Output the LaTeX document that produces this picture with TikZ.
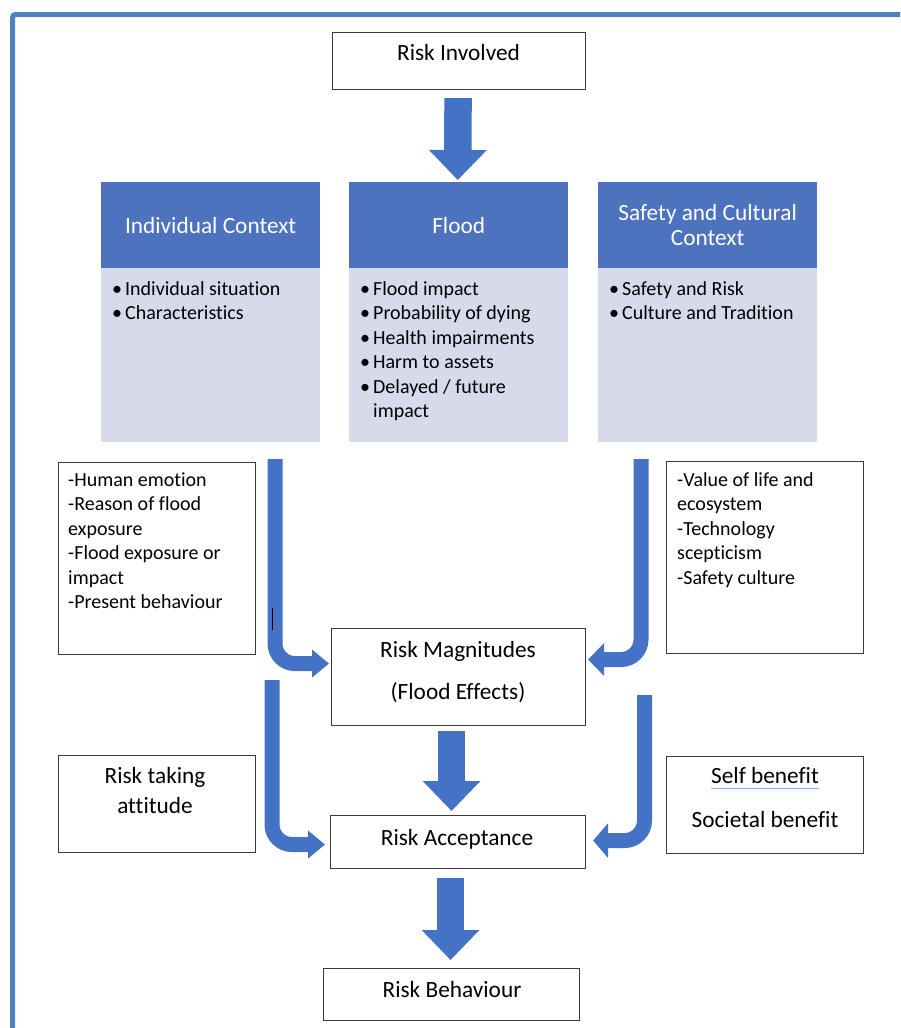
\documentclass[tikz,border=0pt]{standalone}
\usepackage{fontspec}
\setmainfont{Carlito}[Ligatures=NoCommon]
\usetikzlibrary{arrows.meta,calc}
\definecolor{frameblue}{HTML}{4F81BD}
\definecolor{arrowblue}{HTML}{4472C4}
\definecolor{headblue}{HTML}{4E73BE}
\definecolor{bodylav}{HTML}{D6DAEA}
\definecolor{wavyblue}{HTML}{8EA9E8}
\definecolor{boxline}{HTML}{3A3A3A}

\begin{document}
\begin{tikzpicture}[x=1pt,y=-1pt,
  box/.style={draw=boxline, line width=1.1pt, fill=white, inner sep=0pt, anchor=north west},
  headbox/.style={fill=headblue, inner sep=0pt, anchor=north west, minimum width=219pt, minimum height=86pt},
  bodybox/.style={fill=bodylav, inner sep=0pt, anchor=north west, minimum width=219pt, minimum height=174pt},
  txt/.style={inner sep=0pt, font=\fontsize{20}{24.5}\selectfont},
  bigtxt/.style={inner sep=0pt, font=\fontsize{23.3}{28}\selectfont},
  headtxt/.style={inner sep=0pt, text=white, align=center, font=\fontsize{23.3}{25}\selectfont},
  blockarrow/.style={draw=arrowblue, line width=27.5pt, -{Triangle[length=30pt,width=56pt]}},
  bentarrow/.style={draw=arrowblue, line width=15pt, rounded corners=20pt},
]
\useasboundingbox (0,0) rectangle (900,1028);
\clip (0,0) rectangle (900,1028);

% outer frame (only top and left edges fall inside the page)
\draw[frameblue, line width=5pt, rounded corners=3pt] (12.5,1035) -- (12.5,14.5) -- (905,14.5);

% top box
\node[box, minimum width=253pt, minimum height=57pt] (inv) at (332,32) {};
\node[bigtxt, anchor=base] (invT) at (458.5,60.5) {Risk Involved};

% three context columns
\node[headbox] (hdA) at (101,182) {};
\node[bodybox] (bdA) at (101,268) {};
\node[headbox] (hdB) at (349,182) {};
\node[bodybox] (bdB) at (349,268) {};
\node[headbox] (hdC) at (598,182) {};
\node[bodybox] (bdC) at (598,268) {};

\node[headtxt] (hdAT) at (hdA.center) {Individual Context};
\node[headtxt] (hdBT) at (hdB.center) {Flood};
\node[headtxt] (hdCT) at (hdC.center) {Safety and Cultural\\Context};

\newcommand{\bul}{\makebox[13pt][l]{•}}
\node[txt, anchor=north west, align=left] (bdAT) at (112,277.85)
  {\strut\bul Individual situation\\\bul Characteristics};
\node[txt, anchor=north west, align=left] (bdBT) at (360,277.85)
  {\strut\bul Flood impact\\\bul Probability of dying\\\bul Health impairments\\\bul Harm to assets\\\bul Delayed / future\\\hspace*{13pt}impact};
\node[txt, anchor=north west, align=left] (bdCT) at (609,277.85)
  {\strut\bul Safety and Risk\\\bul Culture and Tradition};

% side factor boxes
\node[box, minimum width=197pt, minimum height=192pt] (lf) at (58,462) {};
\node[txt, anchor=north west, align=left] (lfT) at (68,468.85)
  {\strut -Human emotion\\-Reason of flood\\exposure\\-Flood exposure or\\impact\\-Present behaviour};
\node[box, minimum width=197pt, minimum height=192pt] (rf) at (666,461) {};
\node[txt, anchor=north west, align=left] (rfT) at (677,468.85)
  {\strut -Value of life and\\ecosystem\\-Technology\\scepticism\\-Safety culture};

\node[box, minimum width=197pt, minimum height=97pt] (rta) at (58,755) {};
\node[bigtxt, anchor=base] (rtaT1) at (155,783.5) {Risk taking};
\node[bigtxt, anchor=base] (rtaT2) at (155,813.5) {attitude};

\node[box, minimum width=197pt, minimum height=97pt] (sb) at (666,756) {};
\node[bigtxt, anchor=base] (sbT1) at (765,783.5) {Self benefit};
\node[bigtxt, anchor=base] (sbT2) at (765,827) {Societal benefit};
\draw[wavyblue, line width=1.6pt] ($(sbT1.base west)+(0,5)$) -- ($(sbT1.base east)+(0,5)$);

% central chain
\node[box, minimum width=254pt, minimum height=97pt] (mag) at (331,628) {};
\node[bigtxt, anchor=base] (magT1) at (458,657.5) {Risk Magnitudes};
\node[bigtxt, anchor=base] (magT2) at (458,699.5) {(Flood Effects)};

\node[box, minimum width=255pt, minimum height=53pt] (acc) at (330,815) {};
\node[bigtxt, anchor=base] (accT) at (457,845.5) {Risk Acceptance};

\node[box, minimum width=256pt, minimum height=52pt] (beh) at (323,968) {};
\node[bigtxt, anchor=base] (behT) at (452,997.5) {Risk Behaviour};

% straight block arrows
\draw[blockarrow] ($(inv.south)+(-1,8)$) -- ($(hdB.north)+(-1,-2)$);
\draw[blockarrow] ($(mag.south)+(-7,5)$) -- ($(acc.north)+(-6.5,-4)$);
\draw[blockarrow] ($(acc.south)+(-7.5,9)$) -- ($(beh.north)+(-1,-8)$);

% bent arrows into the central boxes
\coordinate (lA) at (275,459);
\coordinate (lB) at (272,680);
\coordinate (rA) at (641,459);
\coordinate (rB) at (644.5,695);
\draw[bentarrow, -{Triangle[length=17pt,width=27pt]}] (lA) |- ($(mag.west)+(-2,-13.5)$);
\draw[bentarrow, -{Triangle[length=17pt,width=27pt]}] (lB) |- ($(acc.west)+(-5,2.5)$);
\draw[bentarrow, -{Triangle[length=16pt,width=32pt]}] (rA) |- ($(mag.east)+(2,-17.5)$);
\draw[bentarrow, -{Triangle[length=15pt,width=34pt]}] (rB) |- ($(acc.east)+(7,-1.5)$);

% small cursor mark on the left arrow
\draw[black, line width=0.9pt] (272,608) -- (272,630);
\end{tikzpicture}
\end{document}
